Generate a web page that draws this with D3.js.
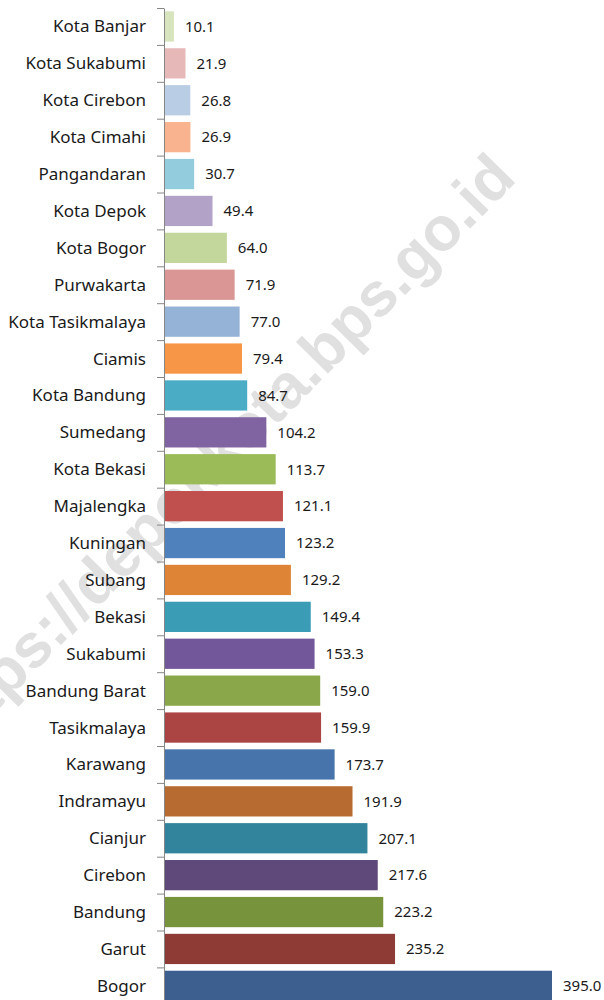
<!DOCTYPE html>
<html>
<head>
<meta charset="utf-8">
<script src="https://cdn.jsdelivr.net/npm/d3@7"></script>
<style>
  body { margin: 0; background: #fff; }
  svg { display: block; }
</style>
</head>
<body>
<div id="chart"></div>
<script>
const categories = [
  'Kota Banjar', 'Kota Sukabumi', 'Kota Cirebon', 'Kota Cimahi', 'Pangandaran',
  'Kota Depok', 'Kota Bogor', 'Purwakarta', 'Kota Tasikmalaya', 'Ciamis',
  'Kota Bandung', 'Sumedang', 'Kota Bekasi', 'Majalengka', 'Kuningan',
  'Subang', 'Bekasi', 'Sukabumi', 'Bandung Barat', 'Tasikmalaya',
  'Karawang', 'Indramayu', 'Cianjur', 'Cirebon', 'Bandung', 'Garut', 'Bogor'
]
const values = [
  10.1, 21.9, 26.8, 26.9, 30.7,
  49.4, 64.0, 71.9, 77.0, 79.4,
  84.7, 104.2, 113.7, 121.1, 123.2,
  129.2, 149.4, 153.3, 159.0, 159.9,
  173.7, 191.9, 207.1, 217.6, 223.2, 235.2, 395.0
]
const colors = [
  '#d7e4bd', '#e6b9b8', '#b9cde5', '#fab38f', '#93cddd',
  '#b3a2c7', '#c3d69b', '#d99694', '#95b3d7', '#f79646',
  '#4bacc6', '#8064a2', '#9bbb59', '#c0504d', '#4f81bd',
  '#dd8437', '#3b9cb5', '#72589a', '#8aa84a', '#ab4543',
  '#4674ab', '#b86b30', '#31849b', '#5f497a', '#77933c', '#8e3a35', '#3d5f8f'
]
const watermark = 'https://depokkota.bps.go.id'

const width = 604
const height = 1000
const axisX = 164
const plotTop = 8
const step = 36.9
const plotBottom = plotTop + step * categories.length

const data = categories.map((c, i) => ({ name: c, value: values[i], color: colors[i] }))

const svg = d3.select('#chart').append('svg')
  .attr('width', width)
  .attr('height', height)

// watermark behind the bars
svg.append('text')
  .attr('transform', 'translate(518,180) rotate(-45.5)')
  .attr('text-anchor', 'end')
  .attr('font-family', 'Liberation Sans, Arial, sans-serif')
  .attr('font-weight', 'bold')
  .attr('font-size', 62)
  .attr('fill', '#e0e0e0')
  .text(watermark)

const x = d3.scaleLinear()
  .domain([0, 395])
  .range([axisX, axisX + 388])

const y = d3.scaleBand()
  .domain(categories)
  .range([plotTop, plotBottom])
  .paddingInner(0.18)
  .paddingOuter(0.09)

svg.selectAll('rect.bar')
  .data(data)
  .enter()
  .append('rect')
  .attr('class', 'bar')
  .attr('x', x(0))
  .attr('y', d => y(d.name))
  .attr('width', d => x(d.value) - x(0))
  .attr('height', y.bandwidth())
  .attr('fill', d => d.color)

// axis line with ticks on category boundaries
const yEdge = d3.scaleLinear()
  .domain([0, categories.length])
  .range([plotTop, plotBottom])

svg.append('g')
  .attr('transform', `translate(${axisX},0)`)
  .call(d3.axisLeft(yEdge)
    .tickValues(d3.range(categories.length + 1))
    .tickFormat('')
    .tickSize(7)
    .tickSizeOuter(0))
  .call(g => g.selectAll('line, path').attr('stroke', '#868686'))

svg.selectAll('text.cat')
  .data(data)
  .enter()
  .append('text')
  .attr('class', 'cat')
  .attr('x', axisX - 18)
  .attr('y', d => y(d.name) + y.bandwidth() / 2)
  .attr('dy', '0.35em')
  .attr('text-anchor', 'end')
  .attr('font-family', 'Noto Sans, sans-serif')
  .attr('font-size', 17)
  .attr('fill', '#1a1a1a')
  .text(d => d.name)

svg.selectAll('text.val')
  .data(data)
  .enter()
  .append('text')
  .attr('class', 'val')
  .attr('x', d => x(d.value) + 11)
  .attr('y', d => y(d.name) + y.bandwidth() / 2)
  .attr('dy', '0.35em')
  .attr('font-family', 'Noto Sans, sans-serif')
  .attr('font-size', 15)
  .attr('fill', '#1a1a1a')
  .text(d => d.value.toFixed(1))
</script>
</body>
</html>
